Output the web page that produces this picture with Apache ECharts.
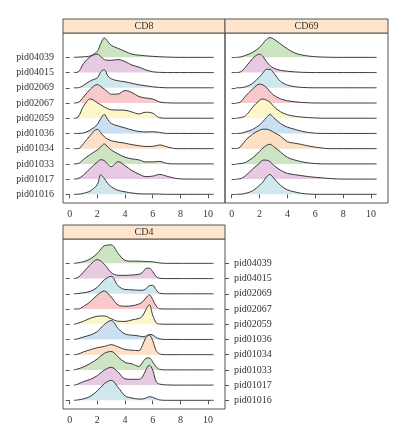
<!DOCTYPE html>
<html>
<head>
<meta charset="utf-8">
<script src="https://cdn.jsdelivr.net/npm/echarts@6/dist/echarts.min.js"></script>
<style>
html,body{margin:0;padding:0;background:#fff;}
#chart{width:413px;height:432px;}
</style>
</head>
<body>
<div id="chart"></div>
<script>
// ---- data ----
const categories = ['pid01016','pid01017','pid01033','pid01034','pid01036','pid02059','pid02067','pid02069','pid04015','pid04039'];
const panelNames = ['CD8','CD69','CD4'];
const xTicks = [0,2,4,6,8,10];
// x positions where density heights were read
const xGrid = [0.3,0.6,1,1.5,2,2.25,2.5,2.75,3,3.5,4,4.5,5,5.5,6,6.5,7,7.5,8,9,10.4];
const xGridCD4 = [0.3,0.6,1,1.5,2,2.5,3,3.5,4,4.5,5,5.25,5.5,5.75,6,6.25,6.5,7,8,10.4];
// density heights (pixel-like units), one row per category in the order above
const densCD8 = [
  [0,0.1,1,3.5,10,19.5,16,11,7.5,4,2.5,1.3,0.5,0.3,0.4,0.2,0,0,0,0,0],
  [0,0.5,4,11,17,19.5,18.5,15,12.5,17.5,13.5,8.5,5,2.5,3,4.7,3,1.2,0.2,0,0],
  [0,0.3,4.5,9.5,14,17,20,17,14,10,6.7,5,4,2,2,2.5,0.5,0,0,0,0],
  [0,0,5,13.5,19.5,16,12,9.5,8,6.5,5.5,4,3,2.2,2.3,3.7,2,0.3,0,0,0],
  [0,0,0.5,3.5,9,15,19,14,10,7.5,5.5,3.5,2,1.5,1.7,1,0,0,0,0,0],
  [0,1,12,19.3,15.5,13.5,11.3,9.5,8.5,8.2,8,6.2,4.3,6,5,0.5,0,0,0,0,0],
  [0,0.5,6,14,18.5,16.5,14,11,8.8,9,12.5,10.5,6.5,5,4,1,0.2,0,0,0,0],
  [0,0,2.5,7,10,16,18,12,9,7,6,4.5,3,2,1,0.3,0,0,0,0,0],
  [0,0.5,9,16,18.5,16,13,12.3,12.3,13,11,7.5,5.5,2.7,0.8,0.2,0,0,0,0,0],
  [0,0.2,0.5,1.5,6,14,19.5,16,12,9,6,3.2,2.2,1.5,1,0.6,0.3,0.1,0,0,0]
];
const densCD69 = [
  [0,0.1,1,3.5,9,12.5,17.5,19.8,16.5,9,4.5,2.5,1,0.3,0,0,0,0,0,0,0],
  [0,0.3,3.5,10,16,19,19,17.5,14,9,5.7,4.5,3.5,2.5,1.8,1.2,0.6,0.2,0,0,0],
  [0,0.2,1.5,6,12.5,16,18.5,19.7,17.5,12,6.5,4,2.2,1,0.3,0,0,0,0,0,0],
  [0,1.5,8.5,14.5,18.5,19.5,19.5,18.5,16.5,12.5,7,5.5,4.3,2.7,1.5,0.6,0,0,0,0,0],
  [0,0.1,1.5,4,8.5,12,16,19,16,10,6.3,4.3,2.3,1,0.2,0,0,0,0,0,0],
  [0,0.5,2.5,11,18,19.3,18,16,12,6.5,3.5,2,1.2,0.6,0.3,0,0,0,0,0,0],
  [0,0.8,7,14,19,18,15.5,11.5,8,4.2,2.3,1.3,0.6,0.2,0,0,0,0,0,0,0],
  [0,0,1,4.3,11,15,18.5,18.5,15,6.5,2.7,1.2,0.4,0.1,0,0,0,0,0,0,0],
  [0,0.5,5.5,14,18.5,16,11,7,4.5,2.3,1.3,0.7,0.3,0.1,0,0,0,0,0,0,0],
  [0,0.3,2,5,10,14,18,19.8,18.5,13.5,8.5,4.5,2.5,1.3,0.6,0.3,0.1,0,0,0,0]
];
const densCD4 = [
  [0,0.4,1.5,4,9.5,16.5,20,13,4.5,2.3,1.3,1.3,2.3,3.6,3,1.5,0.4,0,0,0],
  [0,1,3.5,5.8,9.5,15,17.8,13,6.2,5.8,5.8,8,15,20,15,3.5,1,0.2,0,0],
  [0,1,3,6.5,11,16.5,18.5,13,7.5,6,3.5,7,11.5,12,8,3,0.5,0,0,0],
  [0,0.5,2.8,5,7,8.2,10,7.8,5.2,4.5,4,9,17,19.5,14,4,0.8,0,0,0],
  [0,0.7,2.5,4.5,8,15,19,11,5.5,4.3,3.5,2.8,3.3,5,4.5,2,0.5,0,0,0],
  [0,1,3,6,8,8.3,5.5,3,2.8,4.3,5.8,8,14.5,19.5,9,1.5,0.2,0,0,0],
  [0,0,2.5,7.5,14,18,12,4,2.8,3.2,5,7,11,14.3,9.5,3,0.3,0,0,0],
  [0,0.2,1,2.5,6.5,14,17.5,8,4.3,4,3.5,3.5,5,8,8.5,4,0.5,0,0,0],
  [0,1,6.5,14,19,14.5,6,3.3,3.2,3.6,4.3,6,10,10.5,7,2,0.3,0,0,0],
  [0,0.5,1.7,4.5,10,17.5,18.5,10,3,2.2,2.2,2,1.8,1.8,1.5,1,0.4,0,0,0]
];

// ---- styling ----
const fills = ['#CFE8EE','#E8C9E2','#CDE4C3','#FCDFC4','#CADFF2','#FBF7C8','#F8C9CA','#CFE8EE','#E8C9E2','#CDE4C3'];
const ROW = 15.25; // one row step expressed in the density units
const FONT = 'Liberation Serif';
const TXT = '#333';
const EDGE = '#555';

const chart = echarts.init(document.getElementById('chart'), null, {renderer:'canvas'});

const grids = [
  {left:63, top:33, width:162, height:170},
  {left:225, top:33, width:163, height:170},
  {left:63, top:239, width:162, height:170}
];

function xAxisFor(gi){
  return {
    type:'value', gridIndex:gi, min:-0.48, max:11.22, position:'bottom',
    axisLine:{show:false}, splitLine:{show:false},
    axisTick:{show:true, inside:false, length:4, customValues:xTicks, lineStyle:{color:EDGE}},
    axisLabel:{show:true, margin:6, customValues:xTicks, fontFamily:FONT, fontSize:10, color:TXT}
  };
}
function yAxisFor(gi, pos, labels){
  return {
    type:'value', gridIndex:gi, min:-0.57, max:10.6, position:pos,
    axisLine:{show:false}, splitLine:{show:false},
    axisTick:{show:true, inside:false, length:4, customValues:[0,1,2,3,4,5,6,7,8,9], lineStyle:{color:EDGE}},
    axisLabel:{show:labels, margin:9, customValues:[0,1,2,3,4,5,6,7,8,9], fontFamily:FONT, fontSize:10, color:TXT,
      formatter:function(v){ return categories[Math.round(v)] || ''; }}
  };
}

const yAxes = [
  yAxisFor(0,'left',true),
  yAxisFor(1,'right',false),
  yAxisFor(2,'left',false),
  yAxisFor(2,'right',true)
];
const panelY = [0,1,2];
const panelData = [densCD8, densCD69, densCD4];
const panelX = [xGrid, xGrid, xGridCD4];

const series = [];
for (let p=0;p<3;p++){
  for (let i=categories.length-1;i>=0;i--){
    const xs = panelX[p];
    const vals = panelData[p][i];
    series.push({
      type:'line', xAxisIndex:p, yAxisIndex:panelY[p], silent:true,
      data: xs.map((x,k)=>[x, i + vals[k]/ROW]),
      symbol:'none', smooth:0.35,
      lineStyle:{color:'#3a3a3a', width:1},
      areaStyle:{color:fills[i], opacity:1, origin:i}
    });
  }
}

function strip(x,y,w,label){
  return {
    type:'group', children:[
      {type:'rect', shape:{x:x, y:y, width:w, height:14}, style:{fill:'#FFE5CC', stroke:EDGE, lineWidth:1}, z:10},
      {type:'text', x:x+w/2, y:y+7, style:{text:label, fill:TXT, font:'10px "'+FONT+'"', align:'center', verticalAlign:'middle'}, z:11}
    ]
  };
}

chart.setOption({
  animation:false,
  backgroundColor:'#fff',
  grid: grids.map(g=>Object.assign({show:true, borderColor:EDGE, borderWidth:1, backgroundColor:'transparent', containLabel:false}, g)),
  xAxis:[xAxisFor(0), xAxisFor(1), xAxisFor(2)],
  yAxis:yAxes,
  series:series,
  graphic:[
    strip(63,19,162,panelNames[0]),
    strip(225,19,163,panelNames[1]),
    strip(63,225,162,panelNames[2])
  ]
});
</script>
</body>
</html>
